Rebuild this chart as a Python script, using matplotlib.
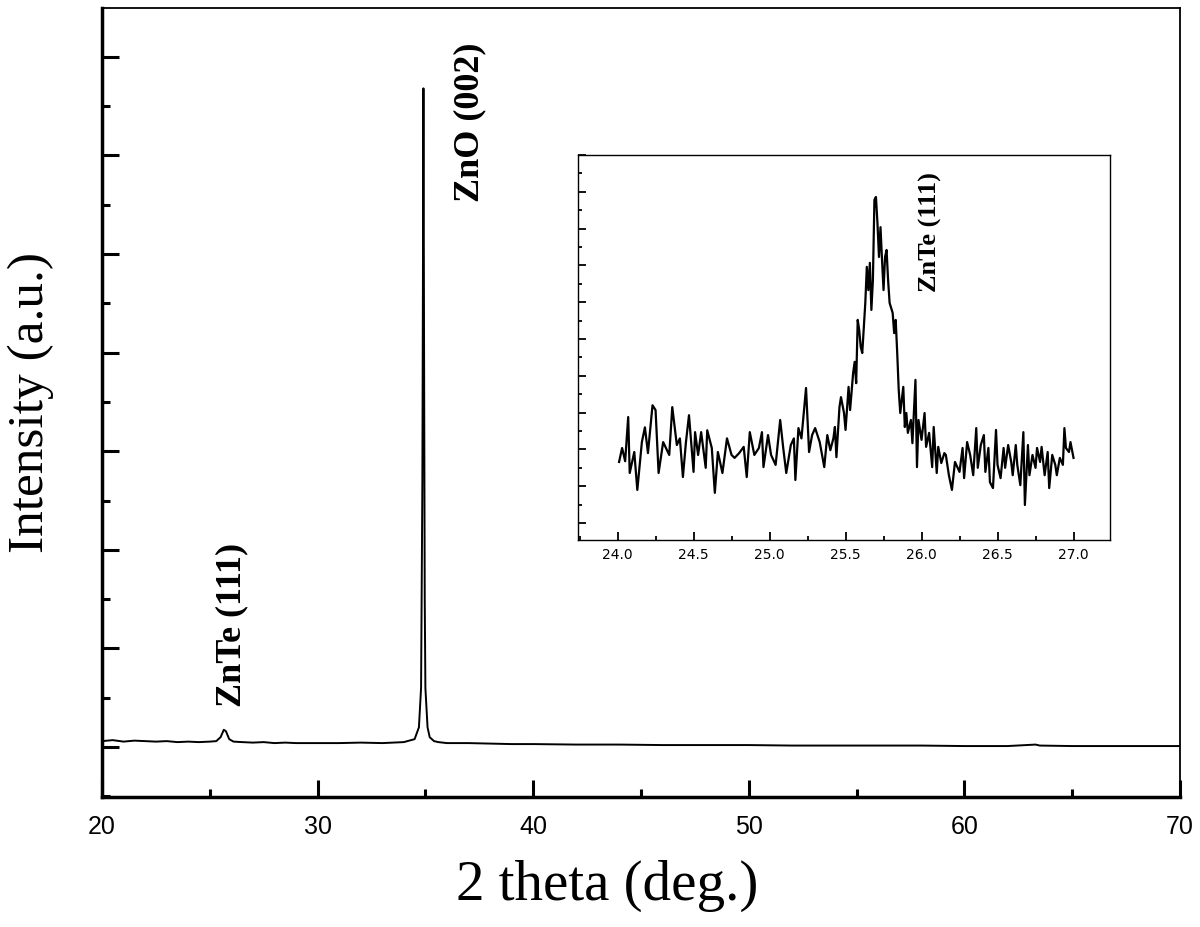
import numpy as np
import matplotlib
matplotlib.use('Agg')
import matplotlib.pyplot as plt
from matplotlib.ticker import MultipleLocator

# XRD pattern, main scan (2theta in deg., intensity in counts)
two_theta = [20.0, 20.5, 21.0, 21.5, 22.0, 22.5, 23.0, 23.5, 24.0, 24.5, 25.0, 25.3,
             25.5, 25.65, 25.75, 25.9, 26.1, 26.5, 27.0, 27.5, 28.0, 28.5, 29.0, 30.0,
             31.0, 32.0, 33.0, 34.0, 34.5, 34.7, 34.8, 34.86, 34.91, 34.94, 34.97, 35.0,
             35.1, 35.2, 35.4, 35.6, 36.0, 37.0, 38.0, 39.0, 40.0, 42.0, 44.0, 46.0,
             48.0, 50.0, 52.0, 55.0, 58.0, 60.0, 62.0, 63.3, 63.5, 65.0, 67.0, 70.0]
intensity = [60, 70, 55, 65, 60, 55, 60, 50, 55, 50, 55, 60,
             100, 175, 160, 80, 55, 50, 45, 50, 40, 45, 40, 40,
             40, 45, 40, 50, 80, 200, 600, 2700, 6680, 3950, 1500, 600,
             200, 100, 60, 50, 40, 40, 35, 30, 30, 25, 25, 20,
             20, 20, 15, 15, 15, 10, 10, 25, 15, 10, 10, 10]

# inset: zoom on the ZnTe (111) reflection
inset_theta = [24.01, 24.03, 24.05, 24.07, 24.08, 24.11, 24.13, 24.16, 24.18, 24.20,
               24.23, 24.25, 24.27, 24.30, 24.34, 24.36, 24.39, 24.41, 24.43, 24.45,
               24.47, 24.50, 24.51, 24.53, 24.55, 24.58, 24.59, 24.62, 24.64, 24.66,
               24.69, 24.72, 24.75, 24.77, 24.80, 24.83, 24.85, 24.87, 24.90, 24.93,
               24.95, 24.96, 24.99, 25.01, 25.04, 25.07, 25.09, 25.11, 25.14, 25.16,
               25.17, 25.19, 25.21, 25.24, 25.26, 25.28, 25.30, 25.33, 25.36, 25.38,
               25.40, 25.42,
               25.43, 25.44, 25.46, 25.47, 25.49, 25.50, 25.52, 25.53, 25.55, 25.56,
               25.57, 25.58, 25.59, 25.60, 25.61, 25.63, 25.64, 25.65, 25.66, 25.67,
               25.68, 25.69, 25.70, 25.71, 25.72, 25.73, 25.74, 25.75, 25.76, 25.77,
               25.78, 25.79, 25.81, 25.82, 25.83, 25.84, 25.85, 25.86, 25.88, 25.89,
               25.90, 25.91, 25.93, 25.94, 25.96, 25.97, 25.98, 26.00, 26.02, 26.03,
               26.05, 26.07, 26.08, 26.10, 26.11, 26.13, 26.15,
               26.16, 26.18, 26.20, 26.22, 26.25, 26.27, 26.28, 26.30, 26.32, 26.34,
               26.36, 26.37, 26.39, 26.41, 26.42, 26.44, 26.45, 26.47, 26.49, 26.50,
               26.52, 26.54, 26.55, 26.57, 26.59, 26.60, 26.62, 26.63, 26.65, 26.67,
               26.68, 26.70, 26.71, 26.73, 26.75, 26.76, 26.78, 26.79, 26.81, 26.83,
               26.84, 26.86, 26.88, 26.89, 26.91, 26.93, 26.94, 26.95, 26.97, 26.98,
               27.00]
inset_int = [1.66, 2.04, 1.68, 2.88, 1.36, 1.93, 0.90, 2.20, 2.60, 1.90,
             3.20, 3.07, 1.36, 2.20, 1.85, 3.15, 2.12, 2.30, 1.25, 2.20,
             2.93, 1.39, 2.47, 1.85, 2.47, 1.50, 2.52, 2.04, 0.82, 1.93,
             1.36, 2.30, 1.85, 1.77, 1.90, 2.07, 1.25, 2.47, 1.85, 2.04,
             2.47, 1.52, 2.39, 1.85, 1.58, 2.80, 2.04, 1.36, 2.12, 2.30,
             1.17, 2.58, 2.30, 3.67, 1.93, 2.39, 2.58, 2.20, 1.52, 2.39,
             1.98, 2.30,
             2.61, 1.79, 3.15, 3.42, 2.99, 2.53, 3.70, 3.07, 4.08, 4.38,
             3.80, 5.52, 5.24, 4.78, 4.62, 5.98, 6.96, 6.33, 7.07, 5.79,
             6.60, 8.78, 8.86, 8.15, 7.23, 8.04, 7.15, 6.33, 7.23, 7.42,
             6.60, 5.98, 5.71, 5.16, 5.52, 4.62, 3.61, 2.99, 3.70, 2.61,
             2.99, 2.45, 2.80, 2.17, 3.89, 1.52, 2.80, 2.26, 2.99, 2.07,
             2.45, 1.52, 2.61, 1.36, 2.07, 1.63, 1.90,
             1.85, 1.30, 0.90, 1.66, 1.39, 2.04, 1.22, 2.20, 1.85, 1.30,
             2.58, 1.50, 2.12, 2.39, 1.39, 2.04, 1.11, 0.95, 2.53, 1.58,
             1.22, 2.04, 1.50, 2.12, 1.66, 1.30, 2.12, 1.58, 1.03, 2.47,
             0.49, 2.12, 1.30, 1.85, 1.50, 2.04, 1.66, 2.07, 1.30, 1.93,
             0.95, 1.85, 1.58, 1.30, 1.77, 1.58, 2.58, 2.04, 1.93, 2.20,
             1.77]

main_xticks = [20, 30, 40, 50, 60, 70]
inset_xticks = [24.0, 24.5, 25.0, 25.5, 26.0, 26.5, 27.0]

serif = ['Liberation Serif', 'DejaVu Serif']

fig = plt.figure(figsize=(12, 9.27), dpi=100)
ax = fig.add_axes([0.085, 0.1402, 0.8983, 0.8512])
ax.plot(two_theta, intensity, color='black', lw=1.4)
ax.set_xlim(20, 70)
ax.set_ylim(-507, 7495)
ax.set_xticks(main_xticks)
ax.xaxis.set_minor_locator(MultipleLocator(5))
ax.yaxis.set_major_locator(MultipleLocator(1000))
ax.yaxis.set_minor_locator(MultipleLocator(500))
ax.tick_params(which='major', direction='in', length=12, width=2.2)
ax.tick_params(which='minor', direction='in', length=6, width=2.2)
ax.tick_params(axis='y', labelleft=False)
ax.tick_params(axis='x', labelsize=18, pad=13)
for lab in ax.get_xticklabels():
    lab.set_family('Liberation Sans')
for side in ['left', 'bottom']:
    ax.spines[side].set_linewidth(2.5)
for side in ['top', 'right']:
    ax.spines[side].set_linewidth(1.3)

ax.set_xlabel('2 theta (deg.)', family=serif, fontsize=41)
ax.xaxis.set_label_coords(0.469, -0.079)
ax.set_ylabel('Intensity (a.u.)', family=serif, fontsize=37, labelpad=31)

ax.text(37.07, 6340, 'ZnO (002)', rotation=90, ha='center', va='center',
        family=serif, fontweight='bold', fontsize=26)
ax.text(26.03, 1237, 'ZnTe (111)', rotation=90, ha='center', va='center',
        family=serif, fontweight='bold', fontsize=26)

# inset
axi = fig.add_axes([0.4817, 0.4175, 0.4433, 0.4153])
axi.plot(inset_theta, inset_int, color='black', lw=1.6)
axi.set_xlim(23.74, 27.24)
axi.set_ylim(-0.46, 10.0)
axi.set_xticks(inset_xticks)
axi.set_xticklabels(['%.1f' % v for v in inset_xticks])
axi.xaxis.set_minor_locator(MultipleLocator(0.25))
axi.yaxis.set_major_locator(MultipleLocator(1))
axi.yaxis.set_minor_locator(MultipleLocator(0.5))
axi.tick_params(which='major', direction='in', length=6, width=1.3)
axi.tick_params(which='minor', direction='in', length=3, width=1.3)
axi.tick_params(axis='y', labelleft=False)
axi.tick_params(axis='x', labelsize=10, pad=6)
for side in axi.spines:
    axi.spines[side].set_linewidth(1.0)
axi.text(26.06, 7.91, 'ZnTe (111)', rotation=90, ha='center', va='center',
         family=serif, fontweight='bold', fontsize=19)

fig.savefig('out.png', dpi=100)
